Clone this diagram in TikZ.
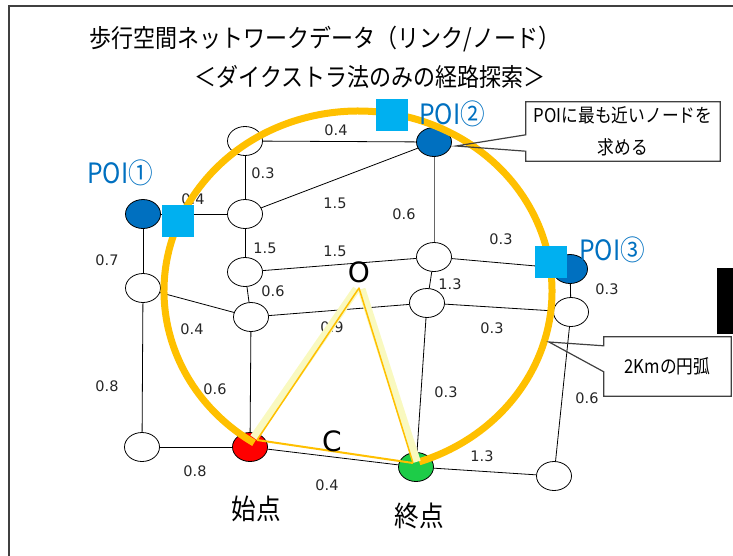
\documentclass[tikz,border=0pt]{standalone}
\usepackage{fontspec}
\setmainfont{DejaVu Sans}
\newfontfamily\jpn[FakeStretch=0.88]{Noto Sans CJK JP}
\usetikzlibrary{shapes.geometric}
\definecolor{poiblue}{HTML}{0070C0}
\definecolor{sqblue}{HTML}{00B0F0}
\definecolor{arcorange}{HTML}{FFC000}
\definecolor{pale}{HTML}{F9F9C0}
\definecolor{startred}{HTML}{FF0000}
\definecolor{endgreen}{HTML}{1DCC48}
\definecolor{framegray}{HTML}{404040}
\definecolor{wtgray}{HTML}{262626}
\begin{document}
\begin{tikzpicture}[x=1pt,y=-1pt,
  nd/.style={ellipse,draw=black,line width=0.8pt,fill=white,minimum width=35pt,minimum height=29pt,inner sep=0pt},
  poind/.style={nd,fill=poiblue},
  link/.style={draw=black,line width=0.8pt},
  wt/.style={font=\fontsize{14.5}{16}\selectfont,text=wtgray,inner sep=0pt},
  poisq/.style={fill=sqblue,minimum size=32pt,inner sep=0pt,draw=none},
  poilbl/.style={font=\jpn\fontsize{28}{30}\selectfont,text=poiblue,inner sep=0pt},
  titlelbl/.style={font=\jpn\fontsize{25}{28}\selectfont,inner sep=0pt},
  bigjp/.style={font=\jpn\fontsize{28}{30}\selectfont,inner sep=0pt},
  biglat/.style={font=\fontsize{28}{30}\selectfont,inner sep=0pt},
  calloutbox/.style={fill=white,draw=none,align=center,inner sep=0pt,font=\jpn\fontsize{19}{32}\selectfont},
  calloutline/.style={draw=framegray,line width=1.2pt,line join=miter},
]
\useasboundingbox (0,0) rectangle (733,555);
% frame
\coordinate (fbl) at (9,556);
\coordinate (ftl) at (9,6);
\coordinate (ftr) at (734,6);
\draw[framegray,line width=2pt] (fbl) -- (ftl) -- (ftr);
\fill[black] (717,268) rectangle (733,334);

% titles
\node[titlelbl] (t1) at (325,39) {歩行空間ネットワークデータ（リンク/ノード）};
\node[titlelbl] (t2) at (370,77) {＜ダイクストラ法のみの経路探索＞};

% nodes
\node[nd] (n1) at (245,141) {};
\node[poind] (poi1) at (143,214) {};
\node[nd] (n2) at (245,214) {};
\node[nd] (n3) at (245,272) {};
\node[nd] (n4) at (143,288) {};
\node[nd] (n5) at (251,317) {};
\node[nd,fill=startred] (st) at (250,447) {};
\node[nd] (bl) at (142,447) {};
\node[poind] (poi2) at (434,142) {};
\node[nd] (n6) at (434,257) {};
\node[poind] (poi3) at (570,269) {};
\node[nd] (n7) at (427,303) {};
\node[nd] (n8) at (571,312) {};
\node[nd,fill=endgreen] (en) at (416,467) {};
\node[nd] (br) at (554,476) {};

% links
\draw[link] (n1) -- (poi2);
\draw[link] (n1) -- (n2);
\draw[link] (poi1) -- (n2);
\draw[link] (n2) -- (poi2);
\draw[link] (poi1) -- (n4);
\draw[link] (n2) -- (n3);
\draw[link] (n3) -- (n6);
\draw[link,draw=black!60] (poi2) -- (n6);
\draw[link] (n6) -- (poi3);
\draw[link] (n6) -- (n7);
\draw[link] (n3) -- (n5);
\draw[link] (n4) -- (n5);
\draw[link] (n5) -- (n7);
\draw[link] (n7) -- (n8);
\draw[link] (poi3) -- (n8);
\draw[link] (n4) -- (bl);
\draw[link] (n5) -- (st);
\draw[link] (n7) -- (en);
\draw[link] (n8) -- (br);
\draw[link] (bl) -- (st);
\draw[link] (st) -- (en);
\draw[link] (en) -- (br);

% weights
\node[wt] (w1) at (336,130) {0.4};
\node[wt] (w2) at (263,173) {0.3};
\node[wt] (w3) at (193,199) {0.4};
\node[wt] (w4) at (335,203) {1.5};
\node[wt] (w5) at (107,260) {0.7};
\node[wt] (w6) at (265,248) {1.5};
\node[wt] (w7) at (335,251) {1.5};
\node[wt] (w8) at (273,291) {0.6};
\node[wt] (w9) at (450,284) {1.3};
\node[wt] (w10) at (332,327) {0.9};
\node[wt] (w11) at (192,329) {0.4};
\node[wt] (w12) at (404,214) {0.6};
\node[wt] (w13) at (501,239) {0.3};
\node[wt] (w14) at (607,289) {0.3};
\node[wt] (w15) at (492,328) {0.3};
\node[wt] (w16) at (446,392) {0.3};
\node[wt] (w17) at (587,398) {0.6};
\node[wt] (w18) at (482,456) {1.3};
\node[wt] (w19) at (107,386) {0.8};
\node[wt] (w20) at (215,389) {0.6};
\node[wt] (w21) at (195,471) {0.8};
\node[wt] (w22) at (327,485) {0.4};

% 2km arc
\coordinate (ac) at (358,291);
\draw[arcorange,line width=7pt] (ac) ++(122.4:194 and 180) arc[start angle=122.4,end angle=431.6,x radius=194,y radius=180];

% triangle
\coordinate (A) at (257,440);
\coordinate (Ot) at (359,288);
\coordinate (B) at (413,463);
\coordinate (A1) at (253.7,437.7);
\coordinate (O1) at (356.5,289);
\coordinate (O2) at (361.5,289);
\coordinate (B1) at (416.8,461.8);
\draw[pale,line width=8pt] (A1) -- (O1);
\draw[pale,line width=8pt] (O2) -- (B1);
\draw[arcorange,line width=1.5pt,line join=round] (A) -- (Ot) -- (B);
\draw[arcorange,line width=2pt] (A) -- (B);
\node[biglat] (olbl) at (359,272) {O};
\node[biglat] (clbl) at (332,441) {C};

% POI squares
\node[poisq] (sq1) at (178,221) {};
\node[poisq] (sq2) at (392,115) {};
\node[poisq] (sq3) at (551,262) {};
\node[poilbl] (p1) at (120,173) {POI①};
\node[poilbl] (p2) at (452,114) {POI②};
\node[poilbl] (p3) at (612,250) {POI③};

% labels
\node[bigjp] (stl) at (256,509) {始点};
\node[bigjp] (enl) at (419,516) {終点};

% callouts
\node[calloutbox,minimum width=194pt,minimum height=59pt] (box1) at (623,131.5) {POIに最も近いノードを\\求める};
\coordinate (tip1) at (456,146);
\draw[calloutline] (box1.north west) -- (box1.north east) -- (box1.south east) -- (box1.south west)
  -- ([yshift=10pt]box1.south west) -- (tip1) -- ([yshift=-33pt]box1.north west) -- cycle;
\node[calloutbox,minimum width=127pt,minimum height=59pt] (box2) at (667.5,366.5) {2Kmの円弧};
\coordinate (tip2) at (549,342);
\draw[calloutline] (box2.north west) -- (box2.north east) -- (box2.south east) -- (box2.south west)
  -- ([yshift=-35pt]box2.north west) -- (tip2) -- ([yshift=-9pt]box2.north west) -- cycle;
\end{tikzpicture}
\end{document}
